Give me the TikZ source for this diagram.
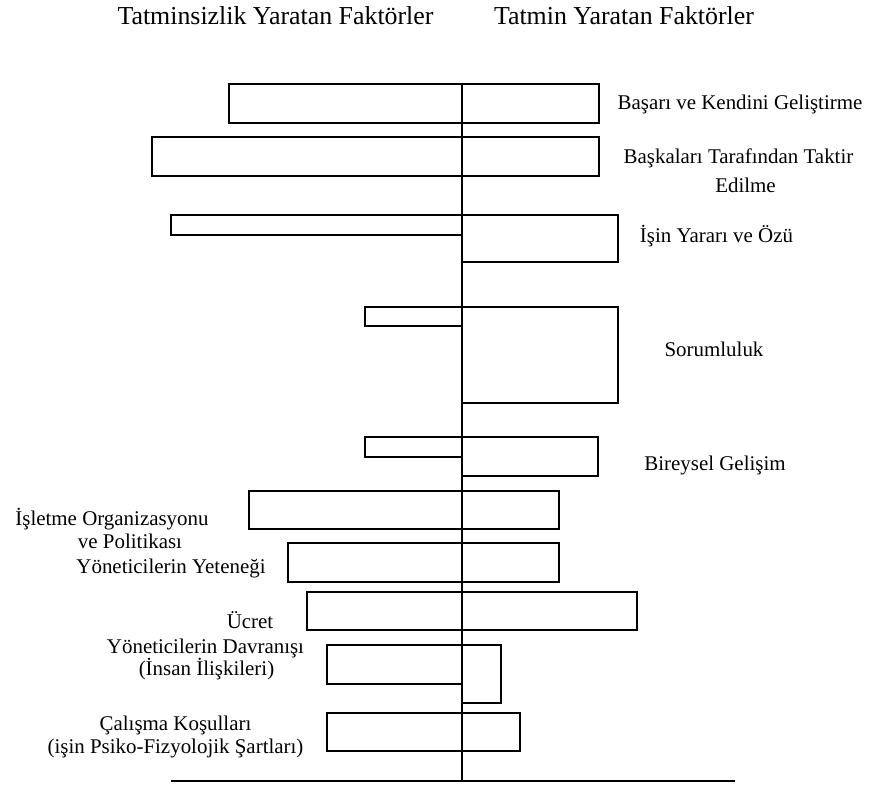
\documentclass[tikz,border=0pt]{standalone}
\usepackage{fontspec}
\setmainfont{Liberation Serif}
\tikzset{
	bar/.style={line width=1.4pt},
	lbl/.style={font=\fontsize{15.7}{19}\selectfont,inner sep=0pt,anchor=base},
	ttl/.style={font=\fontsize{19.4}{23}\selectfont,inner sep=0pt,anchor=base}
}
\begin{document}
\begin{tikzpicture}[x=0.75pt,y=-0.75pt]
	\useasboundingbox (0,0) rectangle (869,785);
	\node[ttl] (dis) at (275.5,24) {Tatminsizlik Yaratan Faktörler};
	\node[ttl] (sat) at (624,24) {Tatmin Yaratan Faktörler};

	\draw[bar] (229,84) rectangle (599,123);
	\draw[bar] (152,137) rectangle (599,176);
	\draw[bar] (171,215) rectangle (462,235);
	\draw[bar] (462,215) rectangle (618,262);
	\draw[bar] (365,307) rectangle (462,326);
	\draw[bar] (462,307) rectangle (618,403);
	\draw[bar] (365,437) rectangle (462,457);
	\draw[bar] (462,437) rectangle (598,476);
	\draw[bar] (249,491) rectangle (559,529);
	\draw[bar] (288,543) rectangle (559,582);
	\draw[bar] (307,592) rectangle (637,630);
	\draw[bar] (327,645) rectangle (462,684);
	\draw[bar] (462,645) rectangle (501,703);
	\draw[bar] (327,713) rectangle (520,751);
	\draw[bar] (462,84) -- (462,781);
	\draw[line width=2pt] (171,781) -- (735,781);

	\node[lbl] (basari) at (740,109) {Başarı ve Kendini Geliştirme};
	\node[lbl] (takdir) at (738.5,163) {Başkaları Tarafından Taktir};
	\node[lbl] (edilme) at (745.5,192) {Edilme};
	\node[lbl] (isin) at (716.5,242) {İşin Yararı ve Özü};
	\node[lbl] (sorum) at (714,356) {Sorumluluk};
	\node[lbl] (bireysel) at (715,470) {Bireysel Gelişim};

	\node[lbl] (isletme) at (112,525) {İşletme Organizasyonu};
	\node[lbl] (politika) at (130,548) {ve Politikası};
	\node[lbl] (yetenek) at (171,573) {Yöneticilerin Yeteneği};
	\node[lbl] (ucret) at (250,628) {Ücret};
	\node[lbl] (davranis) at (205.5,653) {Yöneticilerin Davranışı};
	\node[lbl] (insan) at (206.5,675) {(İnsan İlişkileri)};
	\node[lbl] (calisma) at (175.5,730) {Çalışma Koşulları};
	\node[lbl] (psiko) at (175.5,753) {(işin Psiko-Fizyolojik Şartları)};
\end{tikzpicture}
\end{document}
